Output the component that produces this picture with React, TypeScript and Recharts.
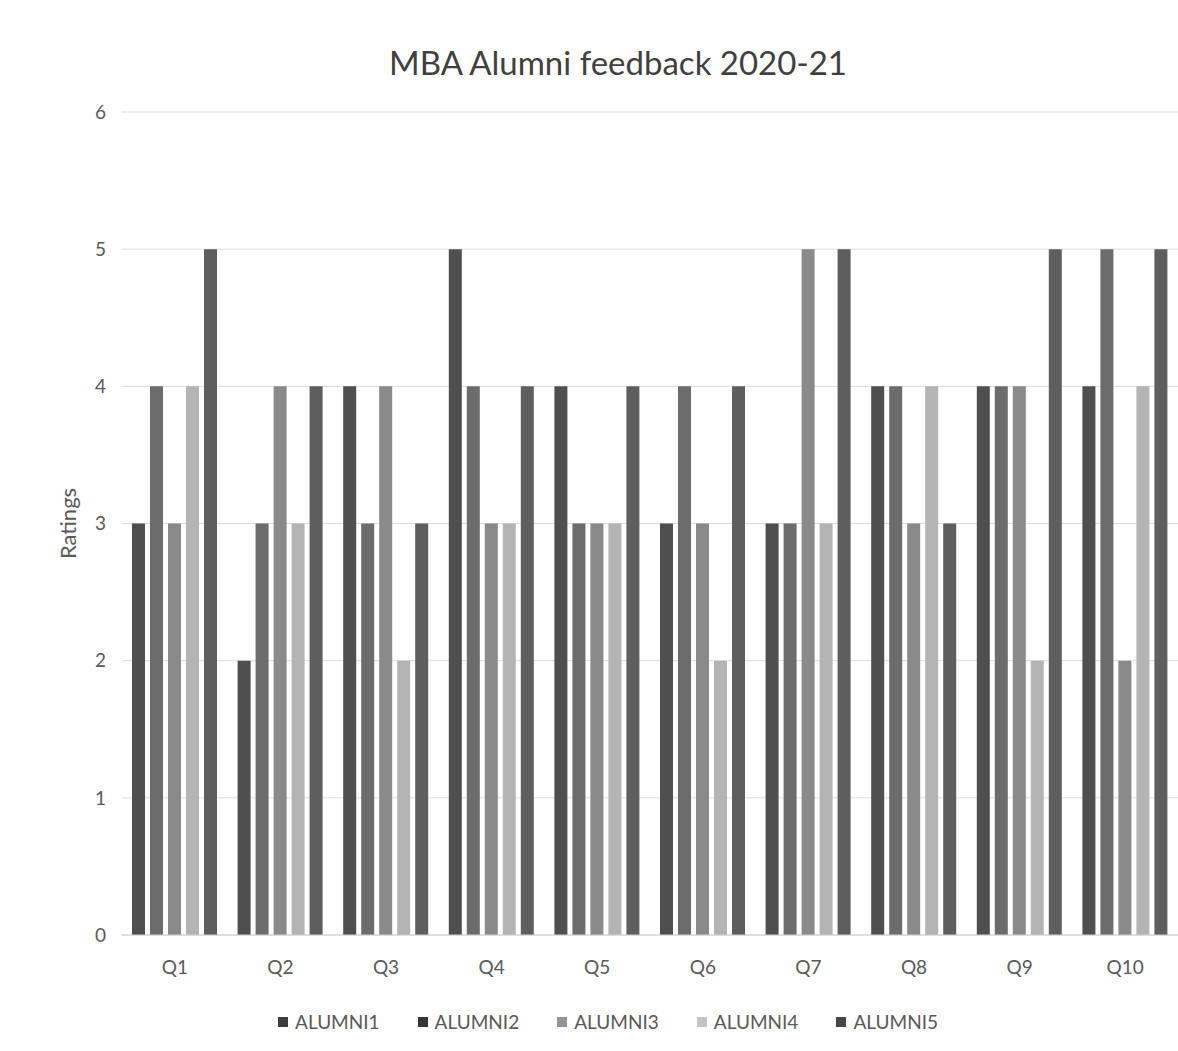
import { Bar, BarChart, CartesianGrid, Legend, XAxis, YAxis } from "recharts";

const questions = ["Q1", "Q2", "Q3", "Q4", "Q5", "Q6", "Q7", "Q8", "Q9", "Q10"];
const alumni1 = [3, 2, 4, 5, 4, 3, 3, 4, 4, 4];
const alumni2 = [4, 3, 3, 4, 3, 4, 3, 4, 4, 5];
const alumni3 = [3, 4, 4, 3, 3, 3, 5, 3, 4, 2];
const alumni4 = [4, 3, 2, 3, 3, 2, 3, 4, 2, 4];
const alumni5 = [5, 4, 3, 4, 4, 4, 5, 3, 5, 5];
const yTicks = [0, 1, 2, 3, 4, 5, 6];

const series = [
  { key: "ALUMNI1", color: "#4f4f4f", legend: "#3c3c3c" },
  { key: "ALUMNI2", color: "#6c6c6c", legend: "#363636" },
  { key: "ALUMNI3", color: "#8a8a8a", legend: "#949494" },
  { key: "ALUMNI4", color: "#b4b4b4", legend: "#c4c4c4" },
  { key: "ALUMNI5", color: "#5e5e5e", legend: "#474747" },
];

const data = questions.map((q, i) => ({
  q,
  ALUMNI1: alumni1[i],
  ALUMNI2: alumni2[i],
  ALUMNI3: alumni3[i],
  ALUMNI4: alumni4[i],
  ALUMNI5: alumni5[i],
}));

const font = "Lato, 'Open Sans', sans-serif";
const textColor = "#595959";

function LegendRow() {
  return (
    <div style={{ display: "flex", justifyContent: "center", gap: 38, fontFamily: font, fontSize: 19, color: textColor, paddingLeft: 38 }}>
      {series.map((s) => (
        <span key={s.key} style={{ display: "inline-flex", alignItems: "center" }}>
          <span style={{ width: 10, height: 10, background: s.legend, marginRight: 7, display: "inline-block" }} />
          {s.key}
        </span>
      ))}
    </div>
  );
}

export default function App() {
  return (
    <div style={{ position: "absolute", left: 0, top: 0, width: 1178, height: 1050, background: "#fff" }}>
      <div style={{ position: "absolute", top: 42, left: 0, width: 1236, textAlign: "center", fontFamily: font, fontSize: 33, color: "#404040" }}>
        MBA Alumni feedback 2020-21
      </div>
      <BarChart width={1178} height={1050} data={data} margin={{ top: 112, right: 0, left: 0, bottom: 0 }} barSize={13} barGap={5}>
        <CartesianGrid vertical={false} stroke="#dcdcdc" />
        <XAxis dataKey="q" axisLine={{ stroke: "#d0d0d0" }} tickLine={false} height={75} tickMargin={20}
          tick={{ fill: textColor, fontSize: 19, fontFamily: font }} />
        <YAxis domain={[0, 6]} ticks={yTicks} width={122} axisLine={false} tickLine={false} tickSize={0} tickMargin={16}
          tick={{ fill: textColor, fontSize: 19, fontFamily: font }}
          label={{ value: "Ratings", angle: -90, position: "center", dx: 7, fill: textColor, fontSize: 22, fontFamily: font }} />
        <Legend verticalAlign="bottom" height={40} content={() => <LegendRow />} />
        {series.map((s) => (
          <Bar key={s.key} dataKey={s.key} fill={s.color} isAnimationActive={false} />
        ))}
      </BarChart>
    </div>
  );
}
